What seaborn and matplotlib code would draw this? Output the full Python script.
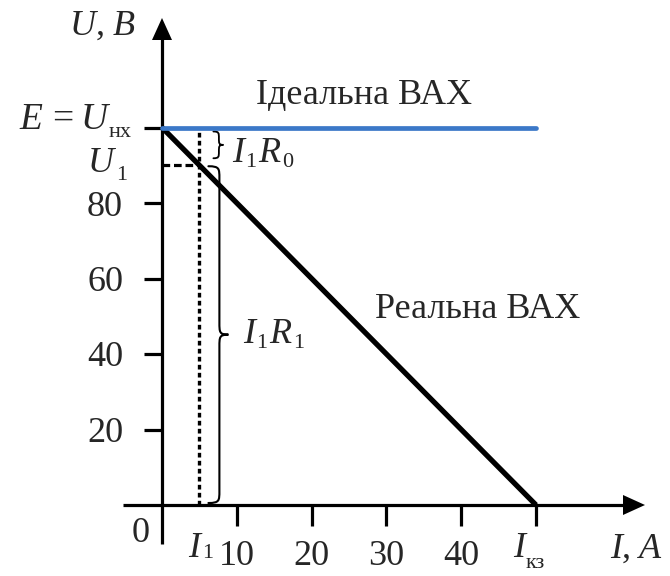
import matplotlib
matplotlib.use("Agg")
import matplotlib.pyplot as plt
from matplotlib.path import Path
from matplotlib.patches import PathPatch
from matplotlib.transforms import offset_copy
import seaborn as sns
import pandas as pd

# Source characteristic values
E = 100          # open-circuit voltage, V
I_SC = 50        # short-circuit current, A
I1 = 5           # operating current, A
U1 = 90          # terminal voltage at I1, V

x_ticks = [10, 20, 30, 40]
y_ticks = [20, 40, 60, 80]

ideal_I = [0, I_SC]
ideal_U = [E, E]
real_I = [0, I_SC]
real_U = [E, 0]

sns.set_theme(style="white")
plt.rcParams["font.family"] = ["Liberation Serif", "DejaVu Serif"]

W, H, DPI = 670, 576, 100
fig = plt.figure(figsize=(W / DPI, H / DPI), dpi=DPI)
ax = fig.add_axes([0, 0, 1, 1])

# pixel scale of the drawing
SX, SY = 7.48, 3.775
OX, OY = 162, 505
ax.set_xlim(-OX / SX, (W - OX) / SX)
ax.set_ylim((OY - H) / SY, OY / SY)
ax.axis("off")

def dx(p):
    return p / SX

def dy(p):
    return p / SY

FS = 26      # main text size
FSS = 16     # subscript size
LW_AX = 2.3
renderer = fig.canvas.get_renderer()

def rich(x, y, parts, ha="left"):
    """Draw a run of text pieces side by side on one baseline.
    parts: (text, size, style, baseline shift px, gap before px)"""
    items = []
    for s, fs, st, shift, gap in parts:
        t = ax.text(x, y, s, fontsize=fs, style=st, ha="left", va="baseline")
        w = t.get_window_extent(renderer).width
        items.append((t, w, shift, gap))
    total = sum(w + g for _, w, _, g in items)
    off = {"left": 0, "center": -total / 2, "right": -total}[ha]
    for t, w, shift, gap in items:
        off += gap
        t.set_transform(offset_copy(ax.transData, fig=fig, x=off, y=shift, units="dots"))
        off += w

def it(s, gap=0, size=FS):
    return (s, size, "italic", 0, gap)

def rm(s, gap=0, size=FS):
    return (s, size, "normal", 0, gap)

def sub(s, gap=1, shift=-6):
    return (s, FSS, "normal", shift, gap)

# axes with arrowheads
x_tip = dx(483)
y_tip = dy(487)
ax.plot([-dx(39), x_tip - dx(10)], [0, 0], color="black", lw=LW_AX, solid_capstyle="butt")
ax.plot([0, 0], [-dy(39), y_tip - dy(10)], color="black", lw=LW_AX, solid_capstyle="butt")
ax.fill([x_tip, x_tip - dx(22), x_tip - dx(22)], [0, dy(10), -dy(10)], color="black", lw=0)
ax.fill([0, dx(10), -dx(10)], [y_tip, y_tip - dy(22), y_tip - dy(22)], color="black", lw=0)

# ticks
for v in y_ticks + [E]:
    ax.plot([-dx(18), 0], [v, v], color="black", lw=LW_AX, solid_capstyle="butt")
for v in x_ticks + [I_SC]:
    ax.plot([v, v], [0, -dy(21)], color="black", lw=LW_AX, solid_capstyle="butt")

# helper lines at the operating point
ax.plot([I1, I1], [0, E], color="black", lw=2.4, linestyle=(0, (1.4, 1.0)))
ax.plot([0, I1], [U1, U1], color="black", lw=2.3, linestyle=(0, (2.4, 1.2)))

# characteristics
real = pd.DataFrame({"I": real_I, "U": real_U})
ideal = pd.DataFrame({"I": ideal_I, "U": ideal_U})
sns.lineplot(data=real, x="I", y="U", ax=ax, color="black", lw=3.8,
             solid_capstyle="butt")
sns.lineplot(data=ideal, x="I", y="U", ax=ax, color="#3b78c8", lw=3.4,
             solid_capstyle="round")

# curly braces
def brace(x0, y_top, y_bot, w, lw):
    """Right-pointing brace from y_top to y_bot, starting at x0, depth w (px)."""
    ym = (y_top + y_bot) / 2
    xa = x0 + dx(w * 0.55)
    xp = x0 + dx(w)
    r = dy(min(12, abs(y_top - y_bot) * SY / 4))
    verts = [
        (x0, y_top),
        (xa, y_top), (xa, y_top - r * 0.2), (xa, y_top - r),
        (xa, ym + r),
        (xa, ym + r * 0.2), (xa, ym), (xp, ym),
        (xa, ym), (xa, ym - r * 0.2), (xa, ym - r),
        (xa, y_bot + r),
        (xa, y_bot + r * 0.2), (xa, y_bot), (x0, y_bot),
    ]
    codes = [Path.MOVETO,
             Path.CURVE4, Path.CURVE4, Path.CURVE4,
             Path.LINETO,
             Path.CURVE4, Path.CURVE4, Path.CURVE4,
             Path.CURVE4, Path.CURVE4, Path.CURVE4,
             Path.LINETO,
             Path.CURVE4, Path.CURVE4, Path.CURVE4]
    ax.add_patch(PathPatch(Path(verts, codes), fill=False, lw=lw, color="black",
                           capstyle="round"))

brace(I1 + dx(14), E - dy(4), U1 + dy(7), 10, 1.3)
brace(I1 + dx(9), U1 - dy(1), dy(2), 20, 1.5)

# axis titles and tick labels
rich(-dx(60), dy(470), [it("U"), rm(","), it("B", 8)], ha="center")
rich(-dx(30), E - dy(1),
     [it("E", 0, 27), rm("=", 9, 27), it("U", 8, 27), sub("нх", 1, -8)], ha="right")
rich(-dx(35), U1 - dy(7), [it("U"), sub("1", 2, -8)], ha="right")
for v in y_ticks:
    ax.text(-dx(39), v - dy(12.5), str(v), fontsize=FS, ha="right", va="baseline")
for v in x_ticks:
    ax.text(v, -dy(60), str(v), fontsize=FS, ha="center", va="baseline")
ax.text(-dx(21), -dy(37), "0", fontsize=FS, ha="center", va="baseline")
rich(I1 - dx(11), -dy(52), [it("I"), sub("1", 2, -1)])
rich(I_SC - dx(23), -dy(52), [it("I"), sub("кз", 1, -11)])
rich(dx(448), -dy(53), [it("I"), rm(","), it("A", 8)])

# curve labels
ax.text(dx(310), E + dy(24), "Ідеальна ВАХ", fontsize=FS, ha="right", va="baseline")
ax.text(dx(418), dy(187), "Реальна ВАХ", fontsize=FS, ha="right", va="baseline")
rich(I1 + dx(33), E - dy(34), [it("I"), sub("1", 1, -5), it("R", 2), sub("0", 1, -5)])
rich(I1 + dx(44), dy(162), [it("I"), sub("1", 1, -5), it("R", 2), sub("1", 1, -5)])

fig.savefig("out.png", dpi=DPI)
